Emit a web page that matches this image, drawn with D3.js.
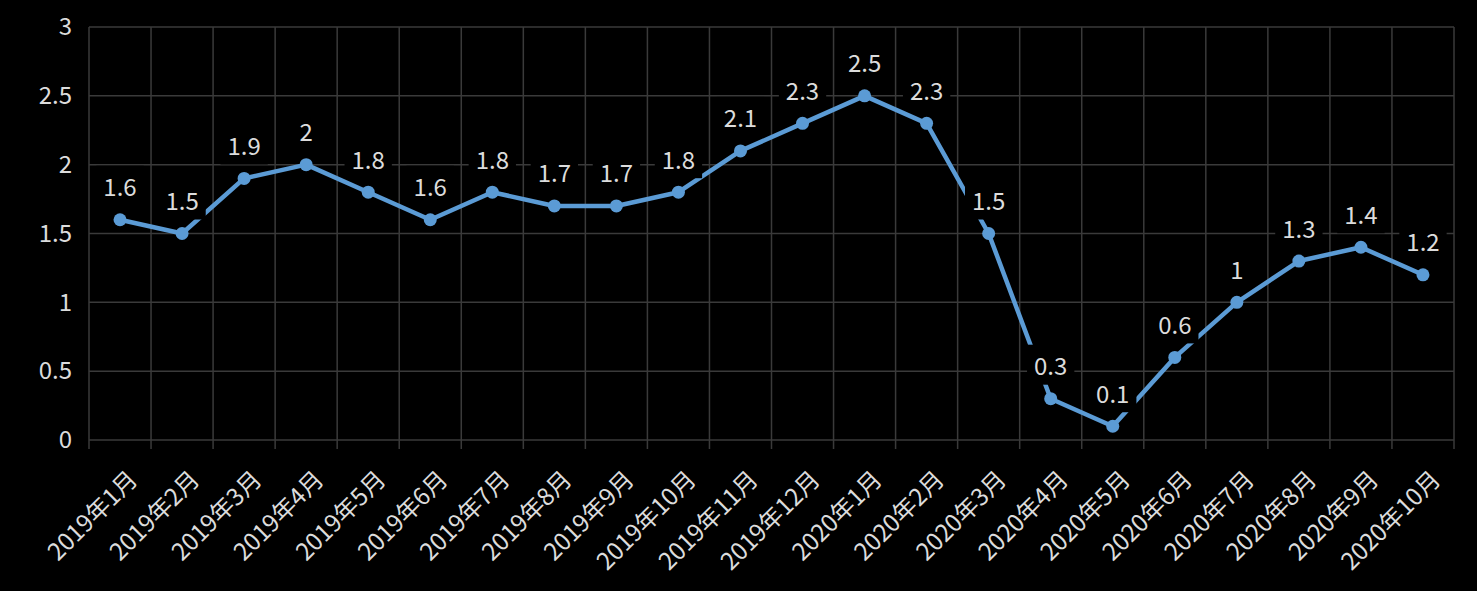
<!DOCTYPE html>
<html><head><meta charset="utf-8">
<script src="https://cdn.jsdelivr.net/npm/d3@7"></script>
<style>
html,body{margin:0;padding:0;background:#000;}
svg{display:block;}
text{font-family:"Noto Sans CJK SC","Noto Sans",sans-serif;}
</style></head>
<body>
<svg id="chart" width="1477" height="591"></svg>
<script>
const categories = ["2019年1月","2019年2月","2019年3月","2019年4月","2019年5月","2019年6月","2019年7月","2019年8月","2019年9月","2019年10月","2019年11月","2019年12月","2020年1月","2020年2月","2020年3月","2020年4月","2020年5月","2020年6月","2020年7月","2020年8月","2020年9月","2020年10月"];
const values = [1.6,1.5,1.9,2,1.8,1.6,1.8,1.7,1.7,1.8,2.1,2.3,2.5,2.3,1.5,0.3,0.1,0.6,1,1.3,1.4,1.2];
const yTicks = [0,0.5,1,1.5,2,2.5,3];

const W = 1477, H = 591;
const m = {left:89, right:23, top:27, bottom:151};
const svg = d3.select("#chart");
svg.append("rect").attr("width",W).attr("height",H).attr("fill","#000");

const x = d3.scaleBand().domain(categories).range([m.left, W-m.right]).padding(0);
const y = d3.scaleLinear().domain([0,3]).range([H-m.bottom, m.top]);
const gridColor = "#3a3a3a";
const textColor = "#dcdcdc";

// horizontal grid
svg.append("g").selectAll("line").data(yTicks).join("line")
  .attr("x1", m.left).attr("x2", W-m.right)
  .attr("y1", d=>y(d)).attr("y2", d=>y(d))
  .attr("stroke", gridColor).attr("stroke-width",1.5);
// vertical grid at band boundaries
const bounds = categories.map(c=>x(c)).concat([x(categories[categories.length-1])+x.bandwidth()]);
svg.append("g").selectAll("line").data(bounds).join("line")
  .attr("x1", d=>d).attr("x2", d=>d)
  .attr("y1", m.top).attr("y2", y(0)+9)
  .attr("stroke", gridColor).attr("stroke-width",1.5);

// y axis labels
const yAxis = d3.axisLeft(y).tickValues(yTicks).tickSize(0).tickPadding(17).tickFormat(d3.format("~g"));
const ya = svg.append("g").attr("transform",`translate(${m.left},0)`).call(yAxis);
ya.select(".domain").remove();
ya.selectAll("text").attr("fill",textColor).style("font-size","24px");

// x axis labels
const xAxis = d3.axisBottom(x).tickSize(0).tickPadding(0);
const xa = svg.append("g").attr("transform",`translate(0,${y(0)})`).call(xAxis);
xa.select(".domain").remove();
xa.selectAll("text")
  .attr("fill",textColor).style("font-size","24px")
  .attr("text-anchor","end").attr("dy",null).attr("y",0)
  .attr("transform","translate(19,41) rotate(-45)");

// line
const cx = d=>x(d.c)+x.bandwidth()/2;
const pts = categories.map((c,i)=>({c, v:values[i]}));
svg.append("path").datum(pts)
  .attr("d", d3.line().x(cx).y(d=>y(d.v)))
  .attr("fill","none").attr("stroke","#5b9bd5").attr("stroke-width",4.5).attr("stroke-linejoin","round");
svg.append("g").selectAll("circle").data(pts).join("circle")
  .attr("cx",cx).attr("cy",d=>y(d.v)).attr("r",6.5).attr("fill","#5b9bd5");

// labels with black boxes
const lg = svg.append("g").selectAll("g").data(pts).join("g")
  .attr("transform", d=>`translate(${cx(d)},${y(d.v)-34})`);
const lt = lg.append("text").text(d=>d3.format("~g")(d.v))
  .attr("text-anchor","middle").attr("dominant-baseline","central")
  .attr("fill",textColor).style("font-size","24px");
lg.each(function(){
  const g = d3.select(this);
  const bb = g.select("text").node().getBBox();
  g.insert("rect","text").attr("x",bb.x-7).attr("width",bb.width+14)
   .attr("y",-20).attr("height",40).attr("fill","#000");
});
</script>
</body></html>
